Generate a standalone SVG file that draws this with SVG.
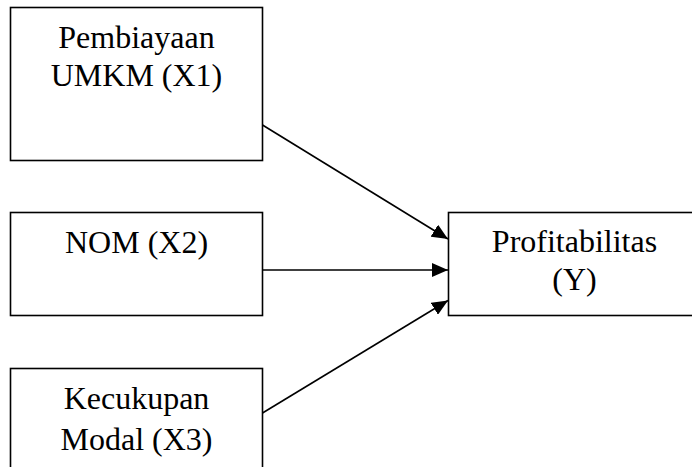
<svg xmlns="http://www.w3.org/2000/svg" width="692" height="467" viewBox="0 0 692 467">
  <defs>
    <style>
      .box { fill: #ffffff; stroke: #000000; stroke-width: 1.6; }
      .lbl { font-family: "Liberation Serif", "Times New Roman", serif; font-size: 32px; fill: #000000; text-anchor: middle; }
      .edge { stroke: #000000; stroke-width: 1.6; fill: none; marker-end: url(#arrow); }
    </style>
    <marker id="arrow" viewBox="0 0 16 14" refX="16" refY="7" markerWidth="16" markerHeight="14" markerUnits="userSpaceOnUse" orient="auto">
      <path d="M0,0 L16,7 L0,14 Z" fill="#000000"/>
    </marker>
  </defs>
  <rect width="692" height="467" fill="#ffffff"/>
  <g id="x1">
    <rect class="box" x="10.5" y="7.5" width="252" height="153"/>
    <text class="lbl" x="136.5" y="48">Pembiayaan</text>
    <text class="lbl" x="136.5" y="86">UMKM (X1)</text>
  </g>
  <g id="x2">
    <rect class="box" x="10.5" y="212.5" width="252" height="103"/>
    <text class="lbl" x="136.5" y="253">NOM (X2)</text>
  </g>
  <g id="x3">
    <rect class="box" x="10.5" y="368.5" width="252" height="110"/>
    <text class="lbl" x="136.5" y="409">Kecukupan</text>
    <text class="lbl" x="136.5" y="450">Modal (X3)</text>
  </g>
  <g id="y">
    <rect class="box" x="448.5" y="212.5" width="252" height="103"/>
    <text class="lbl" x="574.5" y="252">Profitabilitas</text>
    <text class="lbl" x="574.5" y="290">(Y)</text>
  </g>
  <g id="connectors">
    <line class="edge" x1="262.5" y1="125" x2="448" y2="239"/>
    <line class="edge" x1="262.5" y1="270" x2="448" y2="270"/>
    <line class="edge" x1="262.5" y1="413" x2="448" y2="300.5"/>
  </g>
</svg>
